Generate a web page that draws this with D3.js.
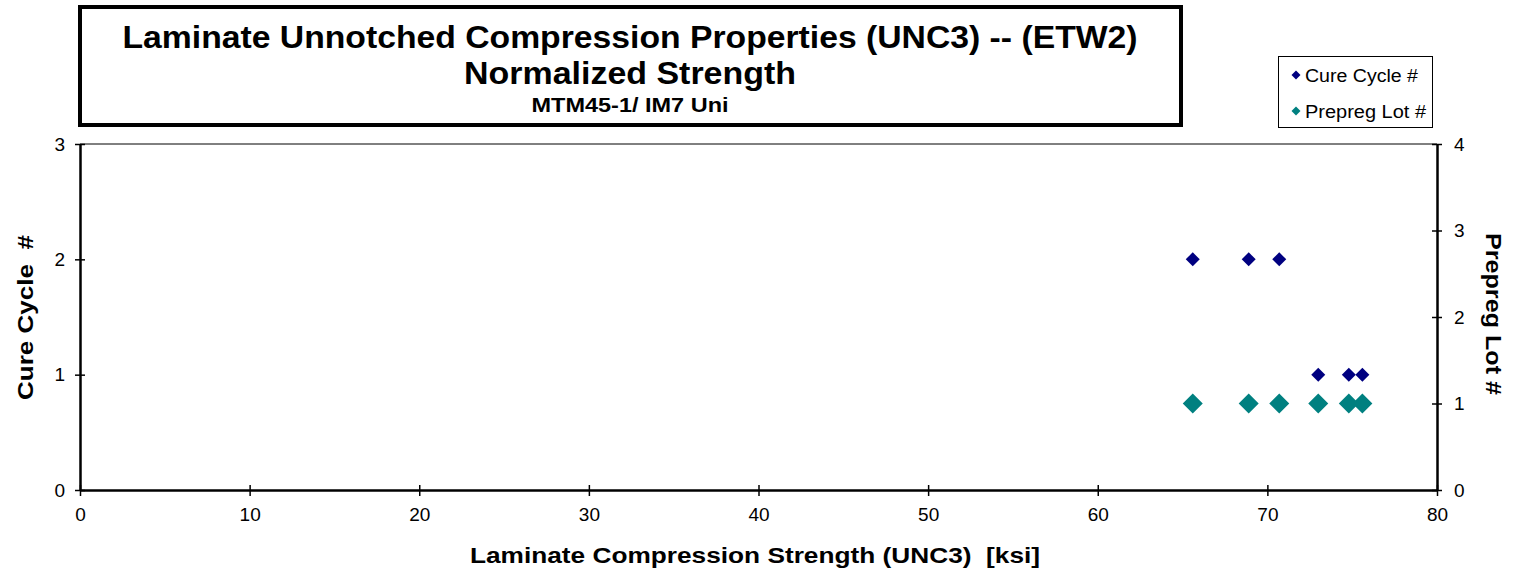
<!DOCTYPE html>
<html><head><meta charset="utf-8">
<script src="https://cdn.jsdelivr.net/npm/d3@7"></script>
<style>
html,body{margin:0;padding:0;background:#fff;}
svg text{font-family:"Liberation Sans",Arial,sans-serif;fill:#000;}
</style></head>
<body>
<svg id="chart" width="1514" height="574"></svg>
<script>
// Data
const strength = [65.6, 68.9, 70.7, 73.0, 74.8, 75.6];
const cureCycle = [2, 2, 2, 1, 1, 1];
const prepregLot = [1, 1, 1, 1, 1, 1];
const xTicks = [0, 10, 20, 30, 40, 50, 60, 70, 80];
const yLeftTicks = [0, 1, 2, 3];
const yRightTicks = [0, 1, 2, 3, 4];
const titleLines = ["Laminate Unnotched Compression Properties (UNC3) -- (ETW2)", "Normalized Strength", "MTM45-1/ IM7 Uni"];
const seriesNames = ["Cure Cycle #", "Prepreg Lot #"];
const seriesColors = ["#000080", "#008080"];

const svg = d3.select("#chart");
const L = 80, R = 1437, T = 144, B = 490;

const x = d3.scaleLinear().domain([0, 80]).range([L, R]);
const yL = d3.scaleLinear().domain([0, 3]).range([B, T]);
const yR = d3.scaleLinear().domain([0, 4]).range([B, T]);

// Title box
svg.append("rect").attr("x", 80).attr("y", 7).attr("width", 1101).attr("height", 118)
  .attr("fill", "#fff").attr("stroke", "#000").attr("stroke-width", 4);
const tb = [[48, 32, 1015], [84, 32, 332], [112, 20, 197]];
titleLines.forEach((t, i) => {
  svg.append("text").attr("x", 630).attr("y", tb[i][0]).attr("text-anchor", "middle")
    .attr("font-size", tb[i][1]).attr("font-weight", "bold")
    .attr("textLength", tb[i][2]).attr("lengthAdjust", "spacingAndGlyphs").text(t);
});

// top border of plot
svg.append("line").attr("x1", L).attr("x2", R).attr("y1", T).attr("y2", T)
  .attr("stroke", "#000").attr("stroke-width", 1);

// Axes
const axX = svg.append("g").attr("transform", `translate(0,${B})`)
  .call(d3.axisBottom(x).tickValues(xTicks).tickSize(6).tickSizeOuter(0).tickFormat(d3.format("d")));
const axL = svg.append("g").attr("transform", `translate(${L},0)`)
  .call(d3.axisLeft(yL).tickValues(yLeftTicks).tickSize(5).tickSizeOuter(0).tickFormat(d3.format("d")));
const axR = svg.append("g").attr("transform", `translate(${R},0)`)
  .call(d3.axisRight(yR).tickValues(yRightTicks).tickSize(5).tickSizeOuter(0).tickFormat(d3.format("d")));

[axX, axL, axR].forEach(a => {
  a.select(".domain").attr("stroke", "#000").attr("stroke-width", 2.5);
  a.selectAll(".tick line").attr("stroke", "#000").attr("stroke-width", 1.5);
  a.selectAll(".tick text").attr("font-size", 19).attr("font-family", "Liberation Sans, Arial, sans-serif").attr("fill", "#000");
});
axX.selectAll(".tick line").attr("y1", -5).attr("y2", 6);
axX.selectAll(".tick text").attr("y", 18);
axL.selectAll(".tick line").attr("x1", 5).attr("x2", -5);
axL.selectAll(".tick text").attr("x", -15);
axR.selectAll(".tick line").attr("x1", -5).attr("x2", 5);
axR.selectAll(".tick text").attr("x", 17);

// Axis titles
svg.append("text").attr("x", 470).attr("y", 563)
  .attr("font-size", 22).attr("font-weight", "bold").attr("xml:space", "preserve")
  .attr("textLength", 570).attr("lengthAdjust", "spacingAndGlyphs")
  .text("Laminate Compression Strength (UNC3)  [ksi]");
svg.append("text").attr("transform", `translate(33,400) rotate(-90)`)
  .attr("font-size", 22).attr("font-weight", "bold")
  .attr("xml:space", "preserve").attr("textLength", 165).attr("lengthAdjust", "spacingAndGlyphs")
  .text("Cure Cycle  #");
svg.append("text").attr("transform", `translate(1486,233) rotate(90)`)
  .attr("font-size", 22).attr("font-weight", "bold")
  .attr("textLength", 162).attr("lengthAdjust", "spacingAndGlyphs")
  .text("Prepreg Lot #");

// Markers
const diamond = s => `M0,${-s}L${s},0L0,${s}L${-s},0Z`;
svg.append("g").selectAll("path").data(strength.map((v, i) => [v, prepregLot[i]])).join("path")
  .attr("d", diamond(10)).attr("fill", seriesColors[1])
  .attr("transform", d => `translate(${x(d[0])},${yR(d[1])})`);
svg.append("g").selectAll("path").data(strength.map((v, i) => [v, cureCycle[i]])).join("path")
  .attr("d", diamond(7)).attr("fill", seriesColors[0])
  .attr("transform", d => `translate(${x(d[0])},${yL(d[1])})`);

// Legend
svg.append("rect").attr("x", 1278.5).attr("y", 56.5).attr("width", 154).attr("height", 71)
  .attr("fill", "#fff").attr("stroke", "#000").attr("stroke-width", 1);
const legLen = [113, 121];
seriesNames.forEach((n, i) => {
  const cy = 75 + i * 36;
  svg.append("path").attr("d", diamond(4.5)).attr("fill", seriesColors[i])
    .attr("transform", `translate(1296,${cy})`);
  svg.append("text").attr("x", 1305).attr("y", cy + 7).attr("font-size", 18)
    .attr("textLength", legLen[i]).attr("lengthAdjust", "spacingAndGlyphs").text(n);
});
</script>
</body></html>
